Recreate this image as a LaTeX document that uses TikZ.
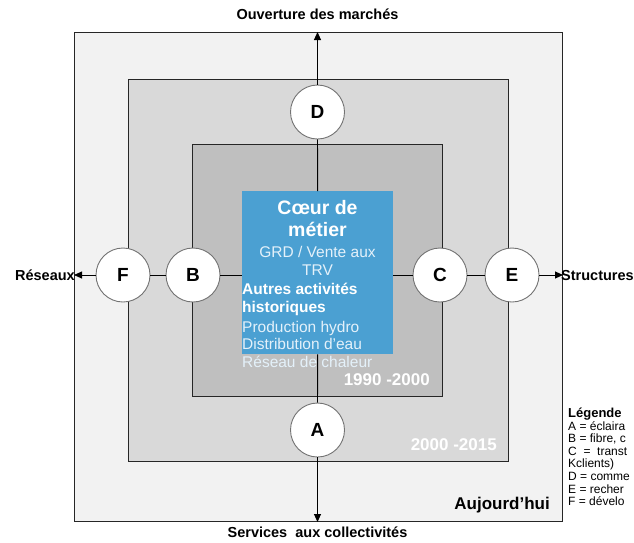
\documentclass[tikz,border=0pt]{standalone}
\usepackage{fontspec}
\setmainfont{Liberation Sans}
\usetikzlibrary{arrows.meta}

\definecolor{fond0}{HTML}{F2F2F2}
\definecolor{fond1}{HTML}{D9D9D9}
\definecolor{fond2}{HTML}{BFBFBF}
\definecolor{coeurbleu}{HTML}{4BA0D2}
\definecolor{texteclair}{HTML}{E4F1FA}

\tikzset{
  zone/.style={rectangle, draw=black!85, line width=1pt, inner sep=0pt, anchor=north west},
  rond/.style={circle, draw=black!55, fill=white, line width=0.9pt, minimum size=54pt, inner sep=0pt, font=\fontsize{19}{19}\selectfont\bfseries},
  axe/.style={draw=black, line width=0.9pt},
  fleche/.style={axe, -{Triangle[length=8pt,width=7pt]}},
  titre/.style={font=\fontsize{14.5}{17}\selectfont\bfseries},
  periode/.style={anchor=east, inner sep=0pt, font=\fontsize{17}{17}\selectfont\bfseries},
  legende/.style={anchor=west, inner sep=0pt, font=\fontsize{12}{12}\selectfont},
}

\begin{document}
\begin{tikzpicture}[x=1pt, y=-1pt]
\useasboundingbox (0,0) rectangle (634,542);

% zones
\node at (74,32)[zone, fill=fond0, minimum width=488pt, minimum height=489pt] (zone0) {};
\node at (128,79)[zone, fill=fond1, minimum width=380pt, minimum height=382pt] (zone1) {};
\node at (192,144)[zone, fill=fond2, minimum width=250pt, minimum height=252pt] (zone2) {};

% coeur de metier
\node at (242,191)[rectangle, fill=coeurbleu, minimum width=151pt, minimum height=163pt, anchor=north west, inner sep=0pt] (coeur) {};

% cercles
\node at (317.5,112)[rond] (d) {D};
\node at (317.5,430)[rond] (a) {A};
\node at (123,275)[rond] (f) {F};
\node at (193,275)[rond] (b) {B};
\node at (440,275)[rond] (c) {C};
\node at (512,275)[rond] (e) {E};

% axes
\draw[fleche] (d) -- (d |- zone0.north);
\draw[axe] (d) -- (coeur);
\draw[axe] (coeur) -- (a);
\draw[fleche] (a) -- (a |- zone0.south);
\draw[fleche] (f) -- (f -| zone0.west);
\draw[axe] (f) -- (b);
\draw[axe] (b) -- (b -| coeur.west);
\draw[axe] (c) -- (c -| coeur.east);
\draw[axe] (c) -- (e);
\draw[fleche] (e) -- (e -| zone0.east);

% textes du coeur
\node at (317.5,219)[font=\fontsize{19.5}{22}\selectfont\bfseries, text=white, align=center] (metier) {Cœur de\\métier};
\node at (317.5,261)[font=\fontsize{15.5}{18}\selectfont, text=texteclair, align=center] (grd) {GRD / Vente aux\\TRV};
\node at (242,299)[anchor=west, inner sep=0pt, font=\fontsize{15.5}{18}\selectfont\bfseries, text=white, align=left] (autres) {Autres activités\\historiques};
\node at (242,344)[anchor=west, inner sep=0pt, font=\fontsize{15.5}{17.5}\selectfont, text=texteclair, align=left] (histo) {Production hydro\\Distribution d'eau\\Réseau de chaleur};

% periodes
\node at (430,380)[periode, text=white] (t2000) {1990 -2000};
\node at (497,445)[periode, text=white] (t2015) {2000 -2015};
\node at (550,505)[periode, text=black] (tnow) {Aujourd'hui};

% axes : libelles
\node at (317.5,14)[titre] (ouverture) {Ouverture des marchés};
\node at (317.5,532)[titre] (services) {Services~ aux collectivités};
\node at (75,275)[titre, anchor=east, inner sep=0pt] (reseaux) {Réseaux};
\node at (561,275)[titre, anchor=west, inner sep=0pt] (structures) {Structures};

% legende
\node at (568,414)[legende, font=\fontsize{13}{13}\selectfont\bfseries] (leg) {Légende};
\node at (568,426.5)[legende] (lega) {A = éclaira};
\node at (568,439)[legende] (legb) {B = fibre, c};
\node at (568,451.5)[legende] (legc) {C\ \ =\ \ transt};
\node at (568,464)[legende] (legk) {Kclients)};
\node at (568,476.5)[legende] (legd) {D = comme};
\node at (568,489)[legende] (lege) {E = recher};
\node at (568,501.5)[legende] (legf) {F = dévelo};

\end{tikzpicture}
\end{document}
